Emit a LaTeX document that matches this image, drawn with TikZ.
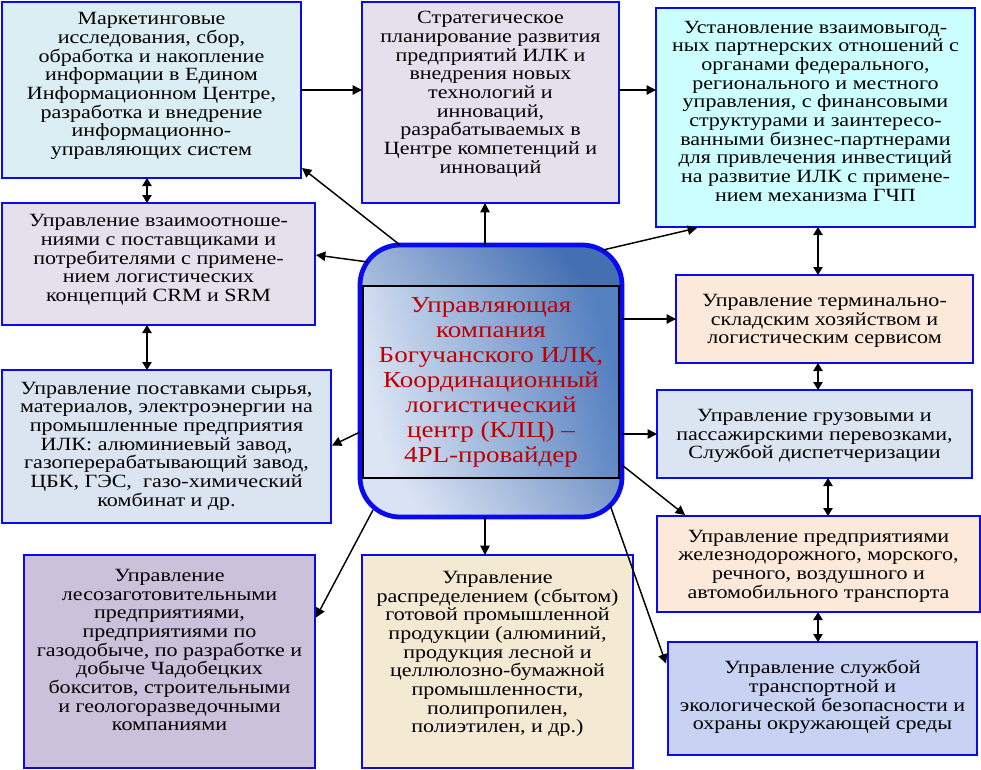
\documentclass[tikz,border=0pt]{standalone}
\usepackage{fontspec}
\setmainfont{Liberation Serif}[FakeStretch=1.18]
\usetikzlibrary{arrows.meta,calc}
\definecolor{bblue}{RGB}{10,10,240}
\definecolor{cA}{HTML}{DAEEF3}
\definecolor{cB}{HTML}{E5E0EC}
\definecolor{cC}{HTML}{CCFFFF}
\definecolor{cD}{HTML}{DBE5F1}
\definecolor{cE}{HTML}{FDE9D9}
\definecolor{cF}{HTML}{C8D2F2}
\definecolor{cG}{HTML}{CCC1DA}
\definecolor{cH}{HTML}{F4E9D2}
\definecolor{oL}{HTML}{DAE3F3}
\definecolor{oD}{HTML}{4470B2}
\definecolor{iL}{HTML}{DCE5F4}
\definecolor{iD}{HTML}{5580C0}
\definecolor{ctred}{HTML}{C00000}
\begin{document}
\begin{tikzpicture}[x=0.75pt,y=-0.75pt,
  box/.style n args={2}{draw=bblue, line width=2.2pt, minimum width=#1*0.75pt, minimum height=#2*0.75pt, inner sep=0pt, outer sep=0pt},
  txt/.style={align=center, font=\fontsize{14}{14}\selectfont, inner sep=0pt},
  ctxt/.style={align=center, font=\fontsize{17.2}{18.75}\selectfont, text=ctred, inner sep=0pt},
  arr/.style={line width=1.1pt, -{Triangle[length=7pt,width=7pt]}},
  dbl/.style={line width=1.1pt, {Triangle[length=6pt,width=7pt]}-{Triangle[length=6pt,width=7pt]}}
]
\useasboundingbox[fill=white] (0,0) rectangle (981,769);

% boxes
\node[box={299}{176},fill=cA] (b1) at (151.5,90) {};
\node[box={257}{201},fill=cB] (b2) at (490.5,102.5) {};
\node[box={319}{219},fill=cC] (b3) at (815.5,117.5) {};
\node[box={313}{122},fill=cB] (b4) at (158.5,264) {};
\node[box={329}{153},fill=cD] (b5) at (166.5,446.5) {};
\node[box={297}{88},fill=cE] (b6) at (824.5,319) {};
\node[box={315}{88},fill=cD] (b7) at (814.5,434) {};
\node[box={323}{96},fill=cE] (b8) at (818.5,564) {};
\node[box={309}{113},fill=cF] (b9) at (822.5,698.5) {};
\node[box={291}{213},fill=cG,line width=1.2pt] (b10) at (169.5,661.5) {};
\node[box={271}{213},fill=cH] (b11) at (497.5,661.5) {};

% texts
\node[txt] (t1) at (151.5,86) {Маркетинговые\\исследования, сбор,\\обработка и накопление\\информации в Едином\\Информационном Центре,\\разработка и внедрение\\информационно-\\управляющих систем};
\node[txt] (t2) at (490.5,94) {Стратегическое\\планирование развития\\предприятий ИЛК и\\внедрения новых\\технологий и\\инноваций,\\разрабатываемых в\\Центре компетенций и\\инноваций};
\node[txt] (t3) at (815.5,111) {Установление взаимовыгод-\\ных партнерских отношений с\\органами федерального,\\регионального и местного\\управления, с финансовыми\\структурами и заинтересо-\\ванными бизнес-партнерами\\для привлечения инвестиций\\на развитие ИЛК с примене-\\нием механизма ГЧП};
\node[txt] (t4) at (158.5,260) {Управление взаимоотноше-\\ниями с поставщиками и\\потребителями с примене-\\нием логистических\\концепций CRM и SRM};
\node[txt] (t5) at (166.5,446) {Управление поставками сырья,\\материалов, электроэнергии на\\промышленные предприятия\\ИЛК: алюминиевый завод,\\газоперерабатывающий завод,\\ЦБК, ГЭС, \ газо-химический\\комбинат и др.};
\node[txt] (t6) at (824.5,321) {Управление терминально-\\складским хозяйством и\\логистическим сервисом};
\node[txt] (t7) at (814.5,436) {Управление грузовыми и\\пассажирскими перевозками,\\Службой диспетчеризации};
\node[txt] (t8) at (818.5,566) {Управление предприятиями\\железнодорожного, морского,\\речного, воздушного и\\автомобильного транспорта};
\node[txt] (t9) at (822.5,697) {Управление службой\\транспортной и\\экологической безопасности и\\охраны окружающей среды};
\node[txt] (t10) at (169.5,650) {Управление\\лесозаготовительными\\предприятиями,\\предприятиями по\\газодобыче, по разработке и\\добыче Чадобецких\\бокситов, строительными\\и геологоразведочными\\компаниями};
\node[txt] (t11) at (497.5,654) {Управление\\распределением (сбытом)\\готовой промышленной\\продукции (алюминий,\\продукция лесной и\\целлюлозно-бумажной\\промышленности,\\полипропилен,\\полиэтилен, и др.)};

% center
\node[draw=bblue, line width=3.6pt, rounded corners=30pt, minimum width=262*0.75pt, minimum height=272*0.75pt, outer sep=0pt, inner sep=0pt, left color=oL, right color=oD, shading angle=125] (c) at (491,381) {};
\node[draw=black, line width=0.8pt, minimum width=256*0.75pt, minimum height=192*0.75pt, outer sep=0pt, inner sep=0pt, left color=iL, right color=iD, shading angle=105] (ci) at (491,382) {};
\node[ctxt] (ct) at (491,382) {Управляющая\\компания\\Богучанского ИЛК,\\Координационный\\логистический\\центр (КЛЦ) --\\4PL-провайдер};

% connectors
\coordinate (cn) at ($(c.north)+(-6,0)$);
\coordinate (cs) at ($(c.south)+(-6,0)$);
\draw[arr] (b1.east) -- (b1.east -| b2.west);
\draw[arr] (b1.east -| b2.east) -- (b1.east -| b3.west);
\draw[arr] (cn) -- (cn |- b2.south);
\draw[arr] ($(c.north west)+(40,0)$) -- ($(b1.south east)+(1,-10)$);
\draw[arr] ($(c.north west)+(8,17)$) -- ($(b4.east)+(1,-9)$);
\draw[arr] ($(c.west)+(0,51)$) -- ($(b5.east)+(1,-1)$);
\draw[arr] ($(c.north east)+(-19,5)$) -- ($(b3.south west)+(41,1)$);
\draw[arr] (b6.west -| c.east) -- (b6.west);
\draw[arr] (b7.west -| c.east) -- (b7.west);
\draw[arr] ($(c.east)+(0,84)$) -- ($(b8.north west)+(28,-1)$);
\draw[arr] ($(c.south east)+(-12,-12)$) -- ($(b9.west)+(-2,-35)$);
\draw[arr] (cs) -- (cs |- b11.north);
\draw[arr] ($(c.south west)+(13,-7)$) -- ($(b10.east)+(1,-44)$);

% double arrows
\coordinate (d1) at ($(b1.south)+(-4.5,0)$);
\coordinate (d2) at ($(b3.south)+(2.5,0)$);
\coordinate (d3) at ($(b7.south)+(13.5,0)$);
\draw[dbl] (d1) -- (d1 |- b4.north);
\draw[dbl] (d1 |- b4.south) -- (d1 |- b5.north);
\draw[dbl] (d2) -- (d2 |- b6.north);
\draw[dbl] (d2 |- b6.south) -- (d2 |- b7.north);
\draw[dbl] (d3) -- (d3 |- b8.north);
\draw[dbl] (d2 |- b8.south) -- (d2 |- b9.north);
\end{tikzpicture}
\end{document}
